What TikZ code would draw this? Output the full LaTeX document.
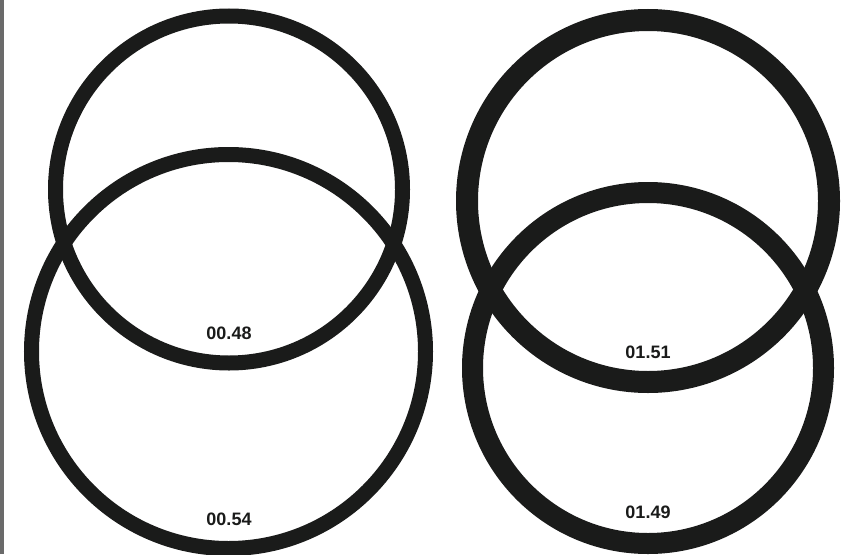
\documentclass[tikz,border=0pt]{standalone}
\usepackage{fontspec}
\setmainfont{Liberation Sans}
\definecolor{ink}{HTML}{1A1B1A}
\definecolor{barg}{HTML}{6A6A6A}
\begin{document}
\begin{tikzpicture}[x=1pt,y=-1pt,
  ring/.style={draw=ink},
  lbl/.style={font=\fontsize{18}{18}\selectfont\bfseries, text=ink, inner sep=0pt}]
\useasboundingbox (0,0) rectangle (842,554);
\fill[white] (0,0) rectangle (842,554);
\fill[barg] (0,0) rectangle (4,554);
\draw[ring, line width=15] (229,189.5) circle (173.5);
\draw[ring, line width=15] (228.5,351.5) circle (197);
\draw[ring, line width=22] (648,201) circle (181);
\draw[ring, line width=21] (648,368) circle (175.5);
\node[lbl] (a) at (229,333) {00.48};
\node[lbl] (b) at (229,519) {00.54};
\node[lbl] (c) at (648,352) {01.51};
\node[lbl] (d) at (648,512) {01.49};
\end{tikzpicture}
\end{document}
